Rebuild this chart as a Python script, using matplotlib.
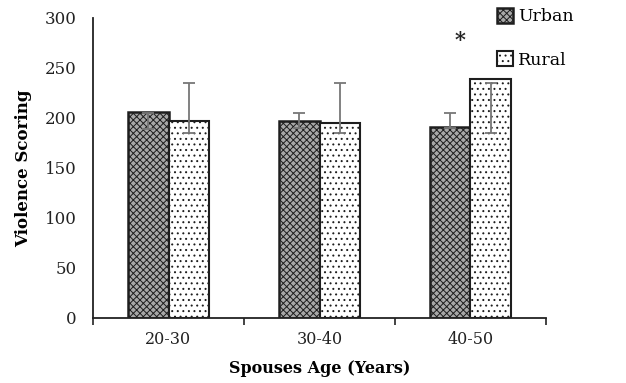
import matplotlib
matplotlib.use("Agg")
import matplotlib.pyplot as plt
import numpy as np

categories = ["20-30", "30-40", "40-50"]
urban = [206, 197, 191]
rural = [197, 195, 239]
urban_err_low = [189, 190, 190]
urban_err_high = [205, 205, 205]
rural_err_low = [185, 185, 185]
rural_err_high = [235, 235, 235]
yticks = [0, 50, 100, 150, 200, 250, 300]

plt.rcParams['font.family'] = ['DejaVu Serif']
plt.rcParams['hatch.linewidth'] = 0.7

fig = plt.figure(figsize=(6.26, 3.83), dpi=100)
ax = fig.add_axes([93/626, 65/383, (546-93)/626, 300/383])

x = np.arange(len(categories))
w = 0.27
ub = ax.bar(x - w/2, urban, w, facecolor="#a8a8a8", edgecolor="#1e1e1e",
            hatch="xxxxx", linewidth=1.8, label="Urban", zorder=2)
rb = ax.bar(x + w/2, rural, w, facecolor="white", edgecolor="#1e1e1e",
            hatch="...", linewidth=1.5, label="Rural", zorder=2)

for xi, lo, hi in zip(x - w/2, urban_err_low, urban_err_high):
    ax.errorbar([xi], [(lo + hi)/2], yerr=[[(hi - lo)/2]], fmt="none",
                ecolor="#777777", elinewidth=1.3, capsize=4, capthick=1.3, zorder=3)
for xi, lo, hi in zip(x + w/2, rural_err_low, rural_err_high):
    ax.errorbar([xi], [(lo + hi)/2], yerr=[[(hi - lo)/2]], fmt="none",
                ecolor="#777777", elinewidth=1.3, capsize=4, capthick=1.3, zorder=3)

ax.text(1.93, 278, "*", ha="center", va="center", fontsize=15, fontweight="bold", color="#222222")

ax.set_xlim(-0.5, 2.5)
ax.set_ylim(0, 300)
ax.set_yticks(yticks)
ax.tick_params(axis="y", length=0, pad=12, labelsize=12, colors="#222222")
ax.set_xticks([-0.5, 0.5, 1.5, 2.5])
ax.set_xticklabels([])
ax.tick_params(axis="x", which="major", length=5, width=1.2, direction="out", color="#222222")
ax.set_xticks(x, minor=True)
ax.set_xticklabels(categories, minor=True)
ax.tick_params(axis="x", which="minor", length=0, pad=9, labelsize=11.5, colors="#222222")

for s in ["top", "right"]:
    ax.spines[s].set_visible(False)
for s in ["left", "bottom"]:
    ax.spines[s].set_color("#222222")
    ax.spines[s].set_linewidth(1.3)

ax.set_ylabel("Violence Scoring", fontsize=12, fontweight="bold", labelpad=9)
ax.set_xlabel("Spouses Age (Years)", fontsize=11.5, fontweight="bold", labelpad=9)

fig.legend(handles=[ub, rb], labels=["Urban", "Rural"], loc="upper left",
           bbox_to_anchor=(481/626, 1.02), frameon=False, fontsize=12.5,
           handlelength=0.95, handleheight=0.95, handletextpad=0.3, labelspacing=1.5)

fig.savefig("out.png", dpi=100)
